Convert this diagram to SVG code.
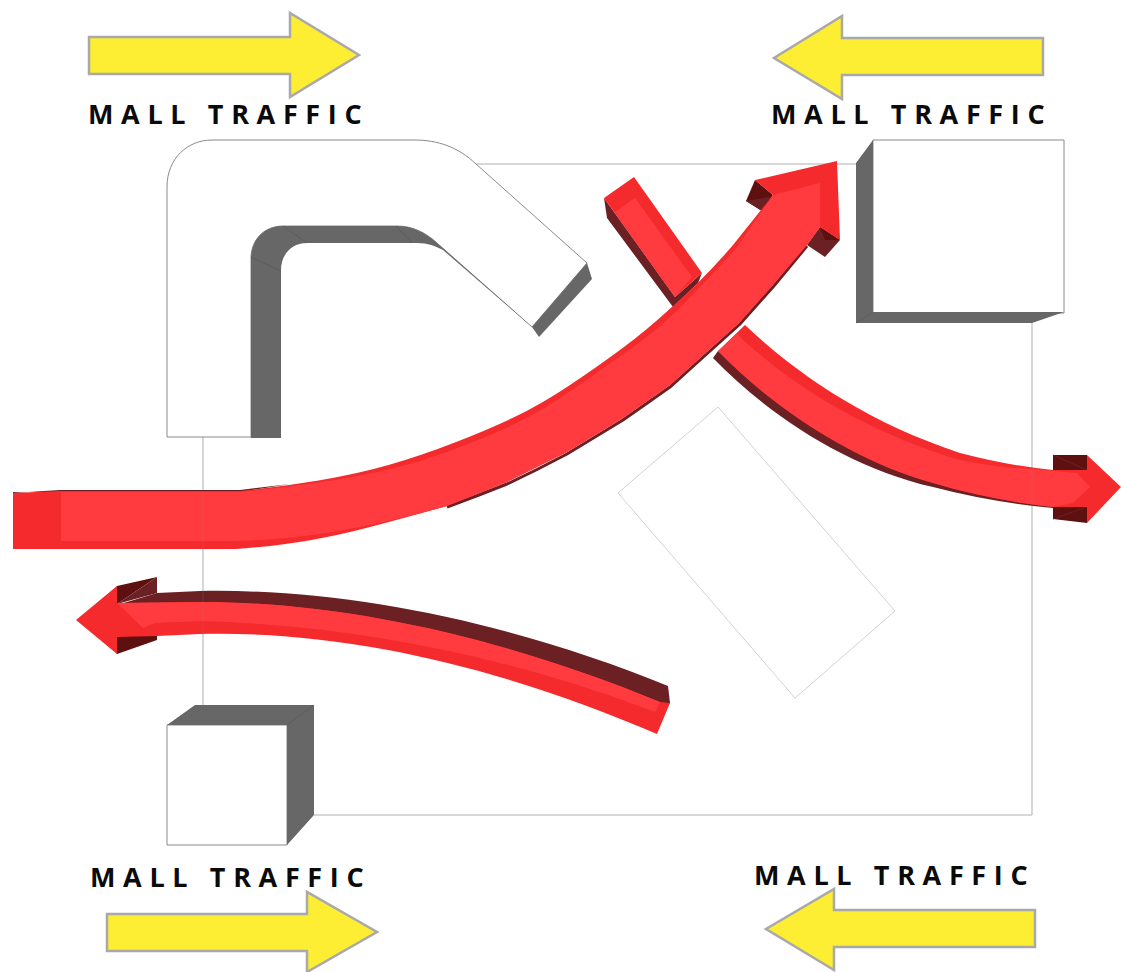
<svg xmlns="http://www.w3.org/2000/svg" width="1121" height="972" viewBox="0 0 1121 972">
<defs><style>
.y{fill:#FDEE34;stroke:#A9A9A9;stroke-width:2.5}
.t{font-family:"Open Sans","Liberation Sans",sans-serif;font-weight:700;font-size:27px;letter-spacing:7.65px;fill:#0a0a0a}
.o{fill:none;stroke:#AFAFAF;stroke-width:1}
.w{fill:#fff;stroke:#8a8a8a;stroke-width:1}
.g{fill:#676767}
.e{fill:#F42A2C}
.b{fill:#FF3B3F}
.d{fill:#6B2023}
.k{fill:#5E0F10}
</style></defs>
<rect width="1121" height="972" fill="#fff"/>
<g id="floor-outline">
<path class="o" d="M476 164H856M1032 323V815H314M203 437V725"/>
<path d="M718 407L895 611L795 698L618 493Z" fill="#fff" stroke="#D2D2D2" stroke-width="1"/>
</g>
<g id="building-l">
<path class="w" d="M251 437H167V187C167 158 188 140 212 140H414C438 140 458 147 476 164L587 263L532 327L437 243C425 232 412 226 397 226H283C263 226 251 241 251 258Z"/>
<path class="g" d="M251 437V258C251 241 263 226 283 226H397C412 226 425 232 437 243L532 327L443 250C435 246 428 243 417 243H307C291 243 281 255 281 270V438H251Z"/>
<path class="g" d="M532 327L587 263L592 279L539 337Z"/>
<path d="M251 257L281 271M283 226L307 243M396 226L412 243" stroke="#555" stroke-width=".6" fill="none"/>
</g>
<g id="box-top-right">
<path d="M873 140H1064V313H873Z" class="w"/>
<path class="g" d="M856 323V163L873 140V312H1064L1032 323Z"/>
<path d="M856 323L873 312" stroke="#555" stroke-width=".6"/>
</g>
<g id="box-bottom-left">
<path d="M167 725H287V845H167Z" class="w"/>
<path class="g" d="M167 725L195 705H314V815L287 845V725Z"/>
<path d="M287 725L314 705" stroke="#555" stroke-width=".6"/>
</g>
<g id="red-path-right">
<path class="d" d="M604 198L607 218L673 307L698 283L702 273L675 297Z"/>
<path class="e" d="M604 198L634 177L702 273L675 297Z"/>
<path class="b" d="M615 212L635 198L692 277L675 297Z"/>
<path class="d" d="M718 351L713 358C765 412 845 467 933 487Q990 502 1053 508V500L933 475L780 400Z"/>
<path class="k" d="M1053 455H1087V470L1053 470Z"/>
<path class="k" d="M1053 507H1087V523L1053 519Z"/>
<path d="M1053 455L1087 470M1053 519L1087 507" stroke="#6B2023" stroke-width="1" fill="none"/>
<path class="e" d="M745 325C790 368 860 420 960 453Q1010 466 1053 470H1087V455L1121 487L1087 523V507H1053Q990 500 933 483C850 460 770 405 718 351Z"/>
<path class="b" d="M737 334C785 380 860 430 960 460Q1000 468 1032 469L1077 473L1090 487L1073 503L1053 507Q990 500 933 483C850 460 770 405 718 351Z"/>
</g>
<g id="red-path-main">
<path d="M807 246L773 287L740 324L700 360L670 387Q646 404 623 420Q595 437 567 454Q537 470 507 484Q477 496 447 507" fill="none" stroke="#6B2023" stroke-width="3"/>
<path class="d" d="M13 493L60 490H240L290 484L240 492H13Z"/>
<path class="k" d="M755 180L746 201L762 211L773 195Z"/>
<path class="d" d="M746 201L762 211L775 196Z"/>
<path class="d" d="M820 227L840 240L825 257L807 245Z"/>
<path class="k" d="M820 227L840 240L825 240Z"/>
<path class="e" d="M13 493L60 491H240Q280 487 318.500 480.500Q357 474 388.500 465Q420 456 453.500 443Q487 430 513.500 417.500Q540 405 568.500 386Q597 367 622 348.500Q647 330 673 306Q703 280 733 245L773 195L755 180L837 161L840 240L820 227L807 245L773 285L740 322L700 358L670 385Q646 402 623 418Q595 435 567 452Q537 467 507 482Q477 494 447 506Q408 517 370 527C320 540 280 546 235 549H13Z"/>
<path class="b" d="M61 492H240Q280 488 318.500 482.500Q357 477 388.500 469.500Q420 462 453.500 449.500Q487 437 513.500 424.500Q540 412 568.500 392.500Q597 373 627 351.500Q657 330 673.500 314Q690 298 735 250L773 195L820 183V227L807 245L773 285L740 322L700 358L670 385Q646 402 623 418Q595 435 567 452Q537 467 507 482Q477 494 447 506Q408 517 370 525C320 535 280 540 235 541H61Z"/>
</g>
<g id="red-path-lower">
<path class="d" d="M157 593L200 591C350 588 520 625 668 686L670 703L655 712L433 640L117 605Z"/>
<path class="k" d="M117 586L157 577L117 604Z"/>
<path class="d" d="M157 577V593L117 604Z"/>
<path class="k" d="M117 636L157 636V640L117 654Z"/>
<path class="e" d="M76 620L117 586V603L200 602C350 602 510 640 660 702L670 703L657 734C520 675 360 630 200 634L157 636L117 637V654Z"/>
<path class="b" d="M117 603L200 602C350 602 510 640 660 702L655 712C520 660 360 625 200 621L155 623L143 628Z"/>
</g>
<path d="M203 491V549M203 591V636" stroke="#8a8a8a" stroke-opacity=".2" fill="none"/>
<path d="M1032 468V507" stroke="#8a8a8a" stroke-opacity=".2" fill="none"/>
<g id="traffic-top-left">
<path class="y" d="M89 37H290V13L359 55L290 97V74H89Z"/>
<text class="t" x="88" y="124">MALL TRAFFIC</text>
</g>
<g id="traffic-top-right">
<path class="y" d="M1043 38H842V16L774 58L842 99V75H1043Z"/>
<text class="t" x="771" y="124">MALL TRAFFIC</text>
</g>
<g id="traffic-bottom-left">
<path class="y" d="M107 914H307V892L377 932L307 972V951H107Z"/>
<text class="t" x="90" y="887">MALL TRAFFIC</text>
</g>
<g id="traffic-bottom-right">
<path class="y" d="M1035 910H834V889L766 929L834 970V947H1035Z"/>
<text class="t" x="754" y="885">MALL TRAFFIC</text>
</g>
</svg>
